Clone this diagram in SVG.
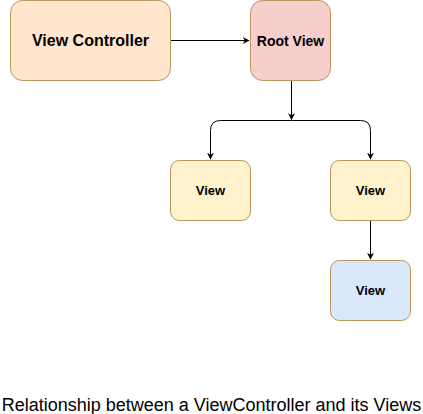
<svg xmlns="http://www.w3.org/2000/svg" width="423" height="414" viewBox="0 0 423 414">
<style>
.n{stroke:#b8965e;stroke-width:1}
.t{font-family:"Liberation Sans",Arial,sans-serif;font-weight:bold;fill:#000;text-anchor:middle}
.c{fill:none;stroke:#000;stroke-width:1}
</style>
<defs>
<marker id="a" viewBox="0 0 10 10" refX="9" refY="5" markerWidth="7" markerHeight="7" orient="auto" markerUnits="userSpaceOnUse">
<path d="M0,0 L10,5 L0,10 L3,5 Z" fill="#000"/>
</marker>
</defs>
<rect width="423" height="414" fill="#fff"/>
<g id="connectors">
<path class="c" d="M170.5,40.5 H249" marker-end="url(#a)"/>
<path class="c" d="M291.5,80.5 V119.5" marker-end="url(#a)"/>
<path class="c" d="M291.5,120.5 H220.5 Q210.5,120.5 210.5,130.5 V159" marker-end="url(#a)"/>
<path class="c" d="M291.5,120.5 H360.5 Q370.5,120.5 370.5,130.5 V159" marker-end="url(#a)"/>
<path class="c" d="M370.5,220.5 V259" marker-end="url(#a)"/>
</g>
<g id="view-controller">
<rect class="n" x="10.5" y="0.5" width="160" height="80" rx="12" fill="#ffe6cc"/>
<text class="t" x="90.5" y="46" font-size="16">View Controller</text>
</g>
<g id="root-view">
<rect class="n" x="250.5" y="0.5" width="80" height="80" rx="12" fill="#f8cecc"/>
<text class="t" x="290.5" y="46" font-size="14">Root View</text>
</g>
<g id="view-left">
<rect class="n" x="170.5" y="160.5" width="80" height="60" rx="9" fill="#fff2cc"/>
<text class="t" x="210.5" y="195" font-size="13">View</text>
</g>
<g id="view-right">
<rect class="n" x="330.5" y="160.5" width="80" height="60" rx="9" fill="#fff2cc"/>
<text class="t" x="370.5" y="195" font-size="13">View</text>
</g>
<g id="view-blue">
<rect class="n" x="330.5" y="260.5" width="80" height="60" rx="9" fill="#dae8fc"/>
<text class="t" x="370.5" y="295" font-size="13">View</text>
</g>
<text x="211.5" y="411" font-family="&quot;Liberation Sans&quot;,Arial,sans-serif" font-size="18" text-anchor="middle" fill="#000">Relationship between a ViewController and its Views</text>
</svg>
